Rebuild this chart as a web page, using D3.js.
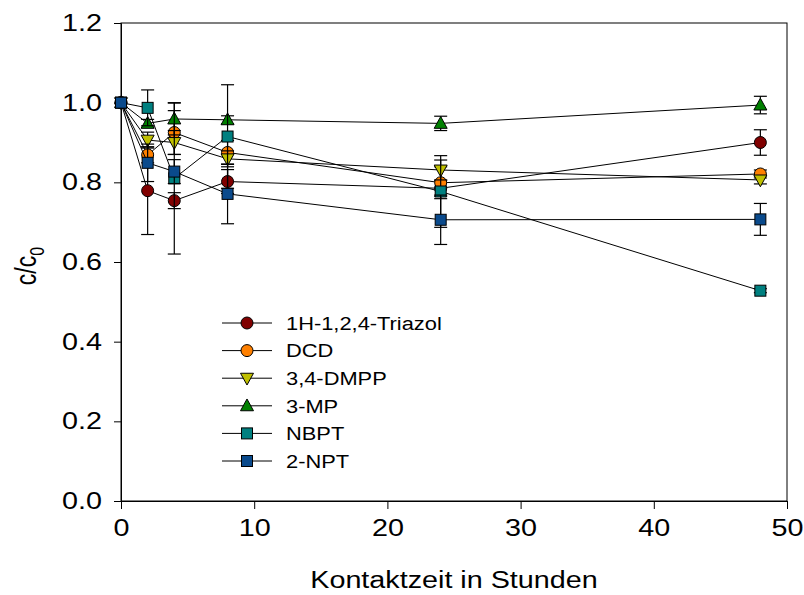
<!DOCTYPE html>
<html>
<head>
<meta charset="utf-8">
<script src="https://cdn.jsdelivr.net/npm/d3@7"></script>
<style>
  html, body { margin: 0; padding: 0; background: #fff; }
  svg { display: block; font-family: Arial, "Liberation Sans", sans-serif; }
</style>
</head>
<body>
<svg id="chart" width="804" height="595"></svg>
<script>
// Contact time (hours)
const hours = [0, 2, 4, 8, 24, 48];

// Relative concentration c/c0 per inhibitor
const triazol = [1.0, 0.779, 0.754, 0.802, 0.785, 0.900];
const dcd     = [1.0, 0.869, 0.925, 0.875, 0.799, 0.821];
const dmpp    = [1.0, 0.906, 0.900, 0.859, 0.831, 0.806];
const mp      = [1.0, 0.948, 0.959, 0.957, 0.948, 0.994];
const nbpt    = [1.0, 0.987, 0.810, 0.915, 0.777, 0.528];
const npt     = [1.0, 0.849, 0.827, 0.771, 0.706, 0.707];

// Standard deviations
const triazolErr = [0, 0.110, 0.020, 0.030, 0.020, 0.032];
const dcdErr     = [0, 0.020, 0.055, 0.030, 0.040, 0.010];
const dmppErr    = [0, 0.020, 0.030, 0.020, 0.025, 0.010];
const mpErr      = [0, 0.010, 0.040, 0.010, 0.018, 0.022];
const nbptErr    = [0, 0.045, 0.190, 0.130, 0.090, 0.005];
const nptErr     = [0, 0.047, 0.030, 0.075, 0.062, 0.040];

const seriesNames = ["1H-1,2,4-Triazol", "DCD", "3,4-DMPP", "3-MP", "NBPT", "2-NPT"];
const xTicks = [0, 10, 20, 30, 40, 50];
const yTicks = [0.0, 0.2, 0.4, 0.6, 0.8, 1.0, 1.2];

const styles = [
  { symbol: "circle",   fill: "#800000" },
  { symbol: "circle",   fill: "#ff8000" },
  { symbol: "triDown",  fill: "#c0c000" },
  { symbol: "triUp",    fill: "#008000" },
  { symbol: "square",   fill: "#008080" },
  { symbol: "square",   fill: "#0a4a8c" }
];

const values = [triazol, dcd, dmpp, mp, nbpt, npt];
const errors = [triazolErr, dcdErr, dmppErr, mpErr, nbptErr, nptErr];
const series = seriesNames.map((name, i) => ({
  name,
  style: styles[i],
  points: hours.map((h, j) => ({ x: h, y: values[i][j], e: errors[i][j] }))
}));

const svg = d3.select("#chart");
const plotLeft = 121, plotRight = 787, plotTop = 23, plotBottom = 501;
const stretch = 1.25;   // text glyphs are drawn wide

const x = d3.scaleLinear().domain([0, 50]).range([plotLeft, plotRight]);
const y = d3.scaleLinear().domain([0, 1.2]).range([plotBottom, plotTop]);

// Frame
svg.append("rect")
  .attr("x", plotLeft).attr("y", plotTop)
  .attr("width", plotRight - plotLeft).attr("height", plotBottom - plotTop)
  .attr("fill", "none").attr("stroke", "#000").attr("stroke-width", 1);

// Axes
const xAxis = svg.append("g")
  .attr("transform", `translate(0,${plotBottom})`)
  .call(d3.axisBottom(x).tickValues(xTicks).tickFormat(d3.format("d")).tickSize(8).tickPadding(11));
const yAxis = svg.append("g")
  .attr("transform", `translate(${plotLeft},0)`)
  .call(d3.axisLeft(y).tickValues(yTicks).tickFormat(d3.format(".1f")).tickSize(7).tickPadding(12));

[xAxis, yAxis].forEach(g => {
  g.select(".domain").attr("stroke", "#000");
  g.selectAll(".tick line").attr("stroke", "#000");
  g.selectAll(".tick text").attr("fill", "#000").style("font-size", "23px")
    .style("font-family", "Arial, 'Liberation Sans', sans-serif");
});
// widen tick labels around their anchor points
xAxis.selectAll(".tick text").attr("transform", `scale(${stretch},1)`);
yAxis.selectAll(".tick text").each(function() {
  const t = d3.select(this);
  const x0 = +t.attr("x");
  t.attr("x", x0 / stretch).attr("transform", `scale(${stretch},1)`);
});

// Axis titles
svg.append("text")
  .attr("transform", `translate(${(plotLeft + plotRight) / 2},588) scale(${stretch},1)`)
  .attr("text-anchor", "middle")
  .style("font-size", "23px")
  .text("Kontaktzeit in Stunden");

const yTitle = svg.append("text")
  .attr("transform", `translate(36,266) rotate(-90) scale(1,${stretch})`)
  .attr("text-anchor", "middle")
  .style("font-size", "23px");
yTitle.append("tspan").text("c/c");
yTitle.append("tspan").attr("dy", 6).style("font-size", "16px").text("0");

// Symbol generator
const symbolSize = 11;
function drawSymbol(g, kind, cx, cy, fill) {
  const r = symbolSize / 2;
  let el;
  if (kind === "circle") {
    el = g.append("circle").attr("cx", cx).attr("cy", cy).attr("r", r + 0.5);
  } else if (kind === "square") {
    el = g.append("rect").attr("x", cx - r).attr("y", cy - r)
      .attr("width", symbolSize).attr("height", symbolSize);
  } else if (kind === "triUp") {
    const h = 11;
    el = g.append("path").attr("d",
      `M${cx},${cy - h * 0.62} L${cx + 6.5},${cy + h * 0.45} L${cx - 6.5},${cy + h * 0.45} Z`);
  } else {
    const h = 11;
    el = g.append("path").attr("d",
      `M${cx},${cy + h * 0.62} L${cx + 6.5},${cy - h * 0.45} L${cx - 6.5},${cy - h * 0.45} Z`);
  }
  el.attr("fill", fill).attr("stroke", "#000").attr("stroke-width", 1);
}

const line = d3.line().x(d => x(d.x)).y(d => y(d.y));
const capHalf = 6.5;

series.forEach(s => {
  const g = svg.append("g");
  g.append("path").datum(s.points)
    .attr("d", line).attr("fill", "none")
    .attr("stroke", "#000").attr("stroke-width", 1);

  // Error bars
  s.points.filter(p => p.e > 0).forEach(p => {
    const cx = x(p.x), y1 = y(p.y + p.e), y2 = y(p.y - p.e);
    g.append("line").attr("x1", cx).attr("x2", cx).attr("y1", y1).attr("y2", y2)
      .attr("stroke", "#000").attr("stroke-width", 1.2);
    [y1, y2].forEach(yy => g.append("line")
      .attr("x1", cx - capHalf).attr("x2", cx + capHalf).attr("y1", yy).attr("y2", yy)
      .attr("stroke", "#000").attr("stroke-width", 1.2));
  });

  s.points.forEach(p => drawSymbol(g, s.style.symbol, x(p.x), y(p.y), s.style.fill));
});

// Legend
const legend = svg.append("g");
const legX = 222, legY0 = 323, legStep = 27.6;
series.forEach((s, i) => {
  const yy = legY0 + i * legStep;
  legend.append("line").attr("x1", legX).attr("x2", legX + 50)
    .attr("y1", yy).attr("y2", yy).attr("stroke", "#000").attr("stroke-width", 1);
  drawSymbol(legend, s.style.symbol, legX + 25, yy, s.style.fill);
  legend.append("text")
    .attr("transform", `translate(${legX + 64},${yy}) scale(1.15,1)`)
    .attr("dy", "0.36em")
    .style("font-size", "19px").text(s.name);
});
</script>
</body>
</html>
